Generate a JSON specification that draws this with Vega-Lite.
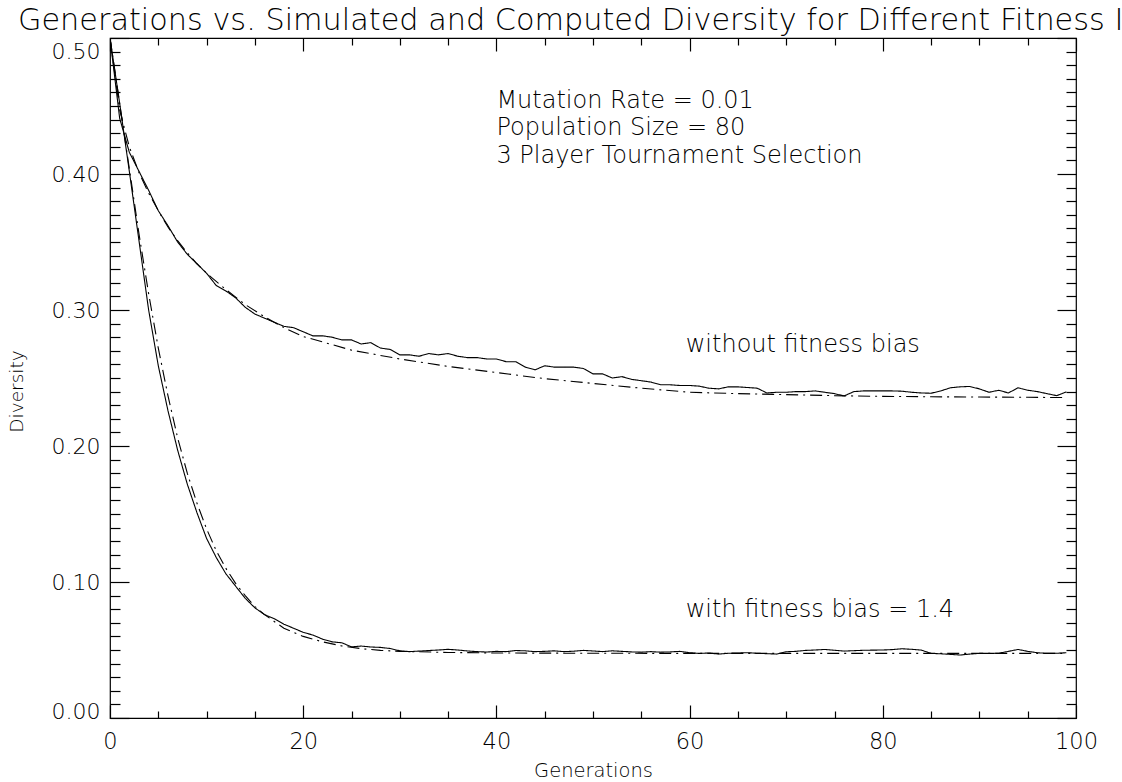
{
  "$schema": "https://vega.github.io/schema/vega-lite/v6.json",
  "width": 966,
  "height": 680,
  "autosize": "none",
  "padding": {"left": 110, "top": 38, "right": 46, "bottom": 64},
  "background": "white",
  "title": {
    "text": "Generations vs. Simulated and Computed Diversity for Different Fitness I",
    "anchor": "start",
    "frame": "group",
    "dx": -92,
    "offset": 1.5,
    "fontSize": 30.3,
    "font": "DejaVu Sans",
    "fontWeight": 200,
    "color": "black"
  },
  "config": {
    "view": {"stroke": "black", "strokeWidth": 1.2},
    "font": "DejaVu Sans",
    "axis": {
      "grid": false,
      "domain": false,
      "tickColor": "black",
      "tickWidth": 1.2,
      "labelColor": "black",
      "labelFont": "DejaVu Sans",
      "labelFontWeight": 200,
      "titleFont": "DejaVu Sans",
      "titleFontWeight": 200,
      "titleColor": "black"
    }
  },
  "resolve": {"axis": {"x": "independent", "y": "independent"}},
  "datasets": {
    "ann": [
      {"g": 40, "d": 0.4537, "label": "Mutation Rate = 0.01"},
      {"g": 40, "d": 0.4339, "label": "Population Size = 80"},
      {"g": 40, "d": 0.4134, "label": "3 Player Tournament Selection"},
      {"g": 59.6, "d": 0.2739, "label": "without fitness bias"},
      {"g": 59.6, "d": 0.0793, "label": "with fitness bias = 1.4"}
    ]
  },
  "layer": [
    {
      "data": {"values": [
        {"s":"without","k":"simulated","g":0,"d":0.500},{"s":"without","k":"simulated","g":1,"d":0.441},{"s":"without","k":"simulated","g":2,"d":0.416},{"s":"without","k":"simulated","g":3,"d":0.402},{"s":"without","k":"simulated","g":4,"d":0.388},{"s":"without","k":"simulated","g":5,"d":0.373},{"s":"without","k":"simulated","g":6,"d":0.362},{"s":"without","k":"simulated","g":7,"d":0.350},{"s":"without","k":"simulated","g":8,"d":0.341},{"s":"without","k":"simulated","g":9,"d":0.334},
        {"s":"without","k":"simulated","g":10,"d":0.327},{"s":"without","k":"simulated","g":11,"d":0.318},{"s":"without","k":"simulated","g":12,"d":0.314},{"s":"without","k":"simulated","g":13,"d":0.309},{"s":"without","k":"simulated","g":14,"d":0.302},{"s":"without","k":"simulated","g":15,"d":0.297},{"s":"without","k":"simulated","g":16,"d":0.294},{"s":"without","k":"simulated","g":17,"d":0.291},{"s":"without","k":"simulated","g":18,"d":0.288},{"s":"without","k":"simulated","g":19,"d":0.287},
        {"s":"without","k":"simulated","g":20,"d":0.284},{"s":"without","k":"simulated","g":21,"d":0.281},{"s":"without","k":"simulated","g":22,"d":0.281},{"s":"without","k":"simulated","g":23,"d":0.280},{"s":"without","k":"simulated","g":24,"d":0.278},{"s":"without","k":"simulated","g":25,"d":0.278},{"s":"without","k":"simulated","g":26,"d":0.275},{"s":"without","k":"simulated","g":27,"d":0.276},{"s":"without","k":"simulated","g":28,"d":0.272},{"s":"without","k":"simulated","g":29,"d":0.271},
        {"s":"without","k":"simulated","g":30,"d":0.267},{"s":"without","k":"simulated","g":31,"d":0.267},{"s":"without","k":"simulated","g":32,"d":0.266},{"s":"without","k":"simulated","g":33,"d":0.268},{"s":"without","k":"simulated","g":34,"d":0.267},{"s":"without","k":"simulated","g":35,"d":0.268},{"s":"without","k":"simulated","g":36,"d":0.266},{"s":"without","k":"simulated","g":37,"d":0.265},{"s":"without","k":"simulated","g":38,"d":0.265},{"s":"without","k":"simulated","g":39,"d":0.264},
        {"s":"without","k":"simulated","g":40,"d":0.264},{"s":"without","k":"simulated","g":41,"d":0.262},{"s":"without","k":"simulated","g":42,"d":0.262},{"s":"without","k":"simulated","g":43,"d":0.258},{"s":"without","k":"simulated","g":44,"d":0.256},{"s":"without","k":"simulated","g":45,"d":0.259},{"s":"without","k":"simulated","g":46,"d":0.258},{"s":"without","k":"simulated","g":47,"d":0.258},{"s":"without","k":"simulated","g":48,"d":0.258},{"s":"without","k":"simulated","g":49,"d":0.257},
        {"s":"without","k":"simulated","g":50,"d":0.253},{"s":"without","k":"simulated","g":51,"d":0.253},{"s":"without","k":"simulated","g":52,"d":0.250},{"s":"without","k":"simulated","g":53,"d":0.251},{"s":"without","k":"simulated","g":54,"d":0.249},{"s":"without","k":"simulated","g":55,"d":0.248},{"s":"without","k":"simulated","g":56,"d":0.247},{"s":"without","k":"simulated","g":57,"d":0.245},{"s":"without","k":"simulated","g":58,"d":0.245},{"s":"without","k":"simulated","g":59,"d":0.2445},
        {"s":"without","k":"simulated","g":60,"d":0.2445},{"s":"without","k":"simulated","g":61,"d":0.244},{"s":"without","k":"simulated","g":62,"d":0.2425},{"s":"without","k":"simulated","g":63,"d":0.242},{"s":"without","k":"simulated","g":64,"d":0.2435},{"s":"without","k":"simulated","g":65,"d":0.2435},{"s":"without","k":"simulated","g":66,"d":0.243},{"s":"without","k":"simulated","g":67,"d":0.2425},{"s":"without","k":"simulated","g":68,"d":0.239},{"s":"without","k":"simulated","g":69,"d":0.2395},
        {"s":"without","k":"simulated","g":70,"d":0.2395},{"s":"without","k":"simulated","g":71,"d":0.240},{"s":"without","k":"simulated","g":72,"d":0.240},{"s":"without","k":"simulated","g":73,"d":0.2405},{"s":"without","k":"simulated","g":74,"d":0.2395},{"s":"without","k":"simulated","g":75,"d":0.2385},{"s":"without","k":"simulated","g":76,"d":0.2368},{"s":"without","k":"simulated","g":77,"d":0.240},{"s":"without","k":"simulated","g":78,"d":0.2405},{"s":"without","k":"simulated","g":79,"d":0.2405},
        {"s":"without","k":"simulated","g":80,"d":0.2405},{"s":"without","k":"simulated","g":81,"d":0.2405},{"s":"without","k":"simulated","g":82,"d":0.2403},{"s":"without","k":"simulated","g":83,"d":0.2395},{"s":"without","k":"simulated","g":84,"d":0.239},{"s":"without","k":"simulated","g":85,"d":0.2388},{"s":"without","k":"simulated","g":86,"d":0.2405},{"s":"without","k":"simulated","g":87,"d":0.2428},{"s":"without","k":"simulated","g":88,"d":0.2435},{"s":"without","k":"simulated","g":89,"d":0.2438},
        {"s":"without","k":"simulated","g":90,"d":0.242},{"s":"without","k":"simulated","g":91,"d":0.2395},{"s":"without","k":"simulated","g":92,"d":0.241},{"s":"without","k":"simulated","g":93,"d":0.239},{"s":"without","k":"simulated","g":94,"d":0.2428},{"s":"without","k":"simulated","g":95,"d":0.241},{"s":"without","k":"simulated","g":96,"d":0.240},{"s":"without","k":"simulated","g":97,"d":0.2385},{"s":"without","k":"simulated","g":98,"d":0.237},{"s":"without","k":"simulated","g":99,"d":0.2398},

        {"s":"without","k":"computed","g":0,"d":0.500},{"s":"without","k":"computed","g":1,"d":0.447},{"s":"without","k":"computed","g":2,"d":0.420},{"s":"without","k":"computed","g":3,"d":0.401},{"s":"without","k":"computed","g":4,"d":0.386},{"s":"without","k":"computed","g":5,"d":0.373},{"s":"without","k":"computed","g":6,"d":0.361},{"s":"without","k":"computed","g":7,"d":0.351},{"s":"without","k":"computed","g":8,"d":0.342},{"s":"without","k":"computed","g":9,"d":0.334},{"s":"without","k":"computed","g":10,"d":0.327},{"s":"without","k":"computed","g":12,"d":0.315},{"s":"without","k":"computed","g":14,"d":0.304},{"s":"without","k":"computed","g":16,"d":0.295},{"s":"without","k":"computed","g":18,"d":0.287},{"s":"without","k":"computed","g":20,"d":0.2805},{"s":"without","k":"computed","g":22,"d":0.2765},{"s":"without","k":"computed","g":25,"d":0.2705},{"s":"without","k":"computed","g":30,"d":0.264},{"s":"without","k":"computed","g":35,"d":0.2585},{"s":"without","k":"computed","g":40,"d":0.254},{"s":"without","k":"computed","g":45,"d":0.2495},{"s":"without","k":"computed","g":50,"d":0.246},{"s":"without","k":"computed","g":55,"d":0.2425},{"s":"without","k":"computed","g":60,"d":0.2395},{"s":"without","k":"computed","g":65,"d":0.2385},{"s":"without","k":"computed","g":70,"d":0.2378},{"s":"without","k":"computed","g":75,"d":0.237},{"s":"without","k":"computed","g":80,"d":0.2365},{"s":"without","k":"computed","g":85,"d":0.2362},{"s":"without","k":"computed","g":90,"d":0.236},{"s":"without","k":"computed","g":95,"d":0.2358},{"s":"without","k":"computed","g":99,"d":0.2356},

        {"s":"with","k":"simulated","g":0,"d":0.500},{"s":"with","k":"simulated","g":1,"d":0.452},{"s":"with","k":"simulated","g":2,"d":0.402},{"s":"with","k":"simulated","g":3,"d":0.351},{"s":"with","k":"simulated","g":4,"d":0.300},{"s":"with","k":"simulated","g":5,"d":0.259},{"s":"with","k":"simulated","g":6,"d":0.226},{"s":"with","k":"simulated","g":7,"d":0.197},{"s":"with","k":"simulated","g":8,"d":0.172},{"s":"with","k":"simulated","g":9,"d":0.151},
        {"s":"with","k":"simulated","g":10,"d":0.132},{"s":"with","k":"simulated","g":11,"d":0.118},{"s":"with","k":"simulated","g":12,"d":0.106},{"s":"with","k":"simulated","g":13,"d":0.097},{"s":"with","k":"simulated","g":14,"d":0.088},{"s":"with","k":"simulated","g":15,"d":0.081},{"s":"with","k":"simulated","g":16,"d":0.076},{"s":"with","k":"simulated","g":17,"d":0.073},{"s":"with","k":"simulated","g":18,"d":0.069},{"s":"with","k":"simulated","g":19,"d":0.066},
        {"s":"with","k":"simulated","g":20,"d":0.063},{"s":"with","k":"simulated","g":21,"d":0.061},{"s":"with","k":"simulated","g":22,"d":0.058},{"s":"with","k":"simulated","g":23,"d":0.056},{"s":"with","k":"simulated","g":24,"d":0.0553},{"s":"with","k":"simulated","g":25,"d":0.0523},{"s":"with","k":"simulated","g":26,"d":0.0529},{"s":"with","k":"simulated","g":27,"d":0.0522},{"s":"with","k":"simulated","g":28,"d":0.0519},{"s":"with","k":"simulated","g":29,"d":0.0511},
        {"s":"with","k":"simulated","g":30,"d":0.0494},{"s":"with","k":"simulated","g":31,"d":0.0488},{"s":"with","k":"simulated","g":32,"d":0.0492},{"s":"with","k":"simulated","g":33,"d":0.0496},{"s":"with","k":"simulated","g":34,"d":0.0500},{"s":"with","k":"simulated","g":35,"d":0.0505},{"s":"with","k":"simulated","g":36,"d":0.0500},{"s":"with","k":"simulated","g":37,"d":0.0493},{"s":"with","k":"simulated","g":38,"d":0.0488},{"s":"with","k":"simulated","g":39,"d":0.0485},
        {"s":"with","k":"simulated","g":40,"d":0.0490},{"s":"with","k":"simulated","g":41,"d":0.0488},{"s":"with","k":"simulated","g":42,"d":0.0496},{"s":"with","k":"simulated","g":43,"d":0.0494},{"s":"with","k":"simulated","g":44,"d":0.0488},{"s":"with","k":"simulated","g":45,"d":0.0490},{"s":"with","k":"simulated","g":46,"d":0.0494},{"s":"with","k":"simulated","g":47,"d":0.0488},{"s":"with","k":"simulated","g":48,"d":0.0491},{"s":"with","k":"simulated","g":49,"d":0.0497},
        {"s":"with","k":"simulated","g":50,"d":0.0493},{"s":"with","k":"simulated","g":51,"d":0.0488},{"s":"with","k":"simulated","g":52,"d":0.0494},{"s":"with","k":"simulated","g":53,"d":0.0490},{"s":"with","k":"simulated","g":54,"d":0.0486},{"s":"with","k":"simulated","g":55,"d":0.0484},{"s":"with","k":"simulated","g":56,"d":0.0488},{"s":"with","k":"simulated","g":57,"d":0.0484},{"s":"with","k":"simulated","g":58,"d":0.0486},{"s":"with","k":"simulated","g":59,"d":0.0490},
        {"s":"with","k":"simulated","g":60,"d":0.0480},{"s":"with","k":"simulated","g":61,"d":0.0475},{"s":"with","k":"simulated","g":62,"d":0.0478},{"s":"with","k":"simulated","g":63,"d":0.0470},{"s":"with","k":"simulated","g":64,"d":0.0476},{"s":"with","k":"simulated","g":65,"d":0.0478},{"s":"with","k":"simulated","g":66,"d":0.0480},{"s":"with","k":"simulated","g":67,"d":0.0476},{"s":"with","k":"simulated","g":68,"d":0.0473},{"s":"with","k":"simulated","g":69,"d":0.0470},
        {"s":"with","k":"simulated","g":70,"d":0.0487},{"s":"with","k":"simulated","g":71,"d":0.0490},{"s":"with","k":"simulated","g":72,"d":0.0497},{"s":"with","k":"simulated","g":73,"d":0.0500},{"s":"with","k":"simulated","g":74,"d":0.0504},{"s":"with","k":"simulated","g":75,"d":0.0498},{"s":"with","k":"simulated","g":76,"d":0.0492},{"s":"with","k":"simulated","g":77,"d":0.0495},{"s":"with","k":"simulated","g":78,"d":0.0498},{"s":"with","k":"simulated","g":79,"d":0.0499},
        {"s":"with","k":"simulated","g":80,"d":0.0500},{"s":"with","k":"simulated","g":81,"d":0.0503},{"s":"with","k":"simulated","g":82,"d":0.0509},{"s":"with","k":"simulated","g":83,"d":0.0505},{"s":"with","k":"simulated","g":84,"d":0.0499},{"s":"with","k":"simulated","g":85,"d":0.0475},{"s":"with","k":"simulated","g":86,"d":0.0472},{"s":"with","k":"simulated","g":87,"d":0.0468},{"s":"with","k":"simulated","g":88,"d":0.0463},{"s":"with","k":"simulated","g":89,"d":0.0470},
        {"s":"with","k":"simulated","g":90,"d":0.0475},{"s":"with","k":"simulated","g":91,"d":0.0475},{"s":"with","k":"simulated","g":92,"d":0.0476},{"s":"with","k":"simulated","g":93,"d":0.0490},{"s":"with","k":"simulated","g":94,"d":0.0504},{"s":"with","k":"simulated","g":95,"d":0.0490},{"s":"with","k":"simulated","g":96,"d":0.0480},{"s":"with","k":"simulated","g":97,"d":0.0475},{"s":"with","k":"simulated","g":98,"d":0.0476},{"s":"with","k":"simulated","g":99,"d":0.0480},

        {"s":"with","k":"computed","g":0,"d":0.500},{"s":"with","k":"computed","g":1,"d":0.452},{"s":"with","k":"computed","g":2,"d":0.404},{"s":"with","k":"computed","g":3,"d":0.356},{"s":"with","k":"computed","g":4,"d":0.312},{"s":"with","k":"computed","g":5,"d":0.272},{"s":"with","k":"computed","g":6,"d":0.237},{"s":"with","k":"computed","g":7,"d":0.206},{"s":"with","k":"computed","g":8,"d":0.180},{"s":"with","k":"computed","g":9,"d":0.158},{"s":"with","k":"computed","g":10,"d":0.139},{"s":"with","k":"computed","g":11,"d":0.123},{"s":"with","k":"computed","g":12,"d":0.110},{"s":"with","k":"computed","g":13,"d":0.099},{"s":"with","k":"computed","g":14,"d":0.090},{"s":"with","k":"computed","g":15,"d":0.082},{"s":"with","k":"computed","g":16,"d":0.076},{"s":"with","k":"computed","g":17,"d":0.071},{"s":"with","k":"computed","g":18,"d":0.066},{"s":"with","k":"computed","g":19,"d":0.063},{"s":"with","k":"computed","g":20,"d":0.060},{"s":"with","k":"computed","g":22,"d":0.056},{"s":"with","k":"computed","g":24,"d":0.053},{"s":"with","k":"computed","g":26,"d":0.051},{"s":"with","k":"computed","g":28,"d":0.0497},{"s":"with","k":"computed","g":30,"d":0.049},{"s":"with","k":"computed","g":35,"d":0.0482},{"s":"with","k":"computed","g":40,"d":0.0478},{"s":"with","k":"computed","g":50,"d":0.0476},{"s":"with","k":"computed","g":60,"d":0.0475},{"s":"with","k":"computed","g":70,"d":0.0475},{"s":"with","k":"computed","g":80,"d":0.0475},{"s":"with","k":"computed","g":90,"d":0.0475},{"s":"with","k":"computed","g":99,"d":0.0475}
      ]},
      "mark": {"type": "line", "color": "black", "strokeWidth": 1.1, "clip": true},
      "encoding": {
        "x": {
          "field": "g", "type": "quantitative",
          "scale": {"domain": [0, 100], "nice": false, "zero": false},
          "axis": {
            "orient": "bottom",
            "values": [0, 20, 40, 60, 80, 100],
            "tickSize": -13,
            "labelPadding": 25,
            "labelFontSize": 22.5,
            "labelFlush": false,
            "title": "Generations",
            "titleFontSize": 19.5,
            "titlePadding": 8.5
          }
        },
        "y": {
          "field": "d", "type": "quantitative",
          "scale": {"domain": [0, 0.5], "nice": false, "zero": false},
          "axis": {
            "orient": "left",
            "values": [0, 0.1, 0.2, 0.3, 0.4, 0.5],
            "format": ".2f",
            "tickSize": -19,
            "labelPadding": 29,
            "labelFontSize": 22,
            "labelFlush": false,
            "labelOffset": {"condition": [{"test": "datum.value >= 0.49", "value": 13}, {"test": "datum.value <= 0.001", "value": -7}], "value": 0},
            "title": "Diversity",
            "titleFontSize": 18.5,
            "titlePadding": 25,
            "titleY": 353
          }
        },
        "detail": {"field": "s"},
        "strokeDash": {
          "field": "k", "type": "nominal",
          "scale": {"domain": ["simulated", "computed"], "range": [[1, 0], [12, 5, 2, 5]]},
          "legend": null
        }
      }
    },
    {
      "data": {"name": "ann"},
      "mark": {"type": "text", "align": "left", "baseline": "middle", "fontSize": 24, "font": "DejaVu Sans", "fontWeight": 200, "color": "black"},
      "encoding": {
        "x": {
          "field": "g", "type": "quantitative",
          "scale": {"domain": [0, 100], "nice": false, "zero": false},
          "axis": {"orient": "bottom", "values": [5,10,15,25,30,35,45,50,55,65,70,75,85,90,95], "tickSize": -7, "labels": false, "title": null}
        },
        "y": {
          "field": "d", "type": "quantitative",
          "scale": {"domain": [0, 0.5], "nice": false, "zero": false},
          "axis": {"orient": "left", "values": [0.01,0.02,0.03,0.04,0.05,0.06,0.07,0.08,0.09,0.11,0.12,0.13,0.14,0.15,0.16,0.17,0.18,0.19,0.21,0.22,0.23,0.24,0.25,0.26,0.27,0.28,0.29,0.31,0.32,0.33,0.34,0.35,0.36,0.37,0.38,0.39,0.41,0.42,0.43,0.44,0.45,0.46,0.47,0.48,0.49], "tickSize": -10, "labels": false, "title": null}
        },
        "text": {"field": "label"}
      }
    },
    {
      "data": {"name": "ann"},
      "mark": {"type": "point", "opacity": 0},
      "encoding": {
        "x": {
          "field": "g", "type": "quantitative",
          "scale": {"domain": [0, 100], "nice": false, "zero": false},
          "axis": {"orient": "top", "values": [0, 20, 40, 60, 80, 100], "tickSize": -13, "labels": false, "title": null}
        },
        "y": {
          "field": "d", "type": "quantitative",
          "scale": {"domain": [0, 0.5], "nice": false, "zero": false},
          "axis": {"orient": "right", "values": [0, 0.1, 0.2, 0.3, 0.4, 0.5], "tickSize": -19, "labels": false, "title": null}
        }
      }
    },
    {
      "data": {"name": "ann"},
      "mark": {"type": "point", "opacity": 0},
      "encoding": {
        "x": {
          "field": "g", "type": "quantitative",
          "scale": {"domain": [0, 100], "nice": false, "zero": false},
          "axis": {"orient": "top", "values": [5,10,15,25,30,35,45,50,55,65,70,75,85,90,95], "tickSize": -7, "labels": false, "title": null}
        },
        "y": {
          "field": "d", "type": "quantitative",
          "scale": {"domain": [0, 0.5], "nice": false, "zero": false},
          "axis": {"orient": "right", "values": [0.01,0.02,0.03,0.04,0.05,0.06,0.07,0.08,0.09,0.11,0.12,0.13,0.14,0.15,0.16,0.17,0.18,0.19,0.21,0.22,0.23,0.24,0.25,0.26,0.27,0.28,0.29,0.31,0.32,0.33,0.34,0.35,0.36,0.37,0.38,0.39,0.41,0.42,0.43,0.44,0.45,0.46,0.47,0.48,0.49], "tickSize": -10, "labels": false, "title": null}
        }
      }
    }
  ]
}
